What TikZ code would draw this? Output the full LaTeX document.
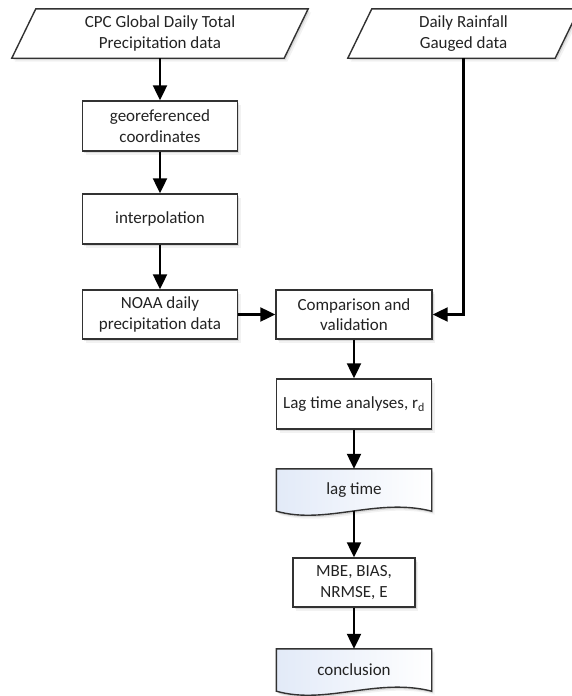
\documentclass[tikz,border=0pt]{standalone}
\usepackage{fontspec}
\setmainfont{Carlito}
\usetikzlibrary{arrows.meta,calc,shadows,backgrounds}
\definecolor{docblue}{RGB}{226,234,248}
\definecolor{edgegray}{RGB}{50,50,50}
\definecolor{txtgray}{RGB}{35,35,35}
\begin{document}
\begin{tikzpicture}[x=1pt,y=-1pt,
  font=\fontsize{17}{20.4}\selectfont,
  softshadow/.style={drop shadow={shadow xshift=1.5pt,shadow yshift=-2pt,opacity=0.10,fill=black},
                     drop shadow={shadow xshift=3pt,shadow yshift=-3.5pt,opacity=0.05,fill=black}},
  box/.style={draw=edgegray, line width=1.4pt, fill=white, softshadow, text=txtgray,
              minimum width=155pt, minimum height=50pt, inner sep=2pt, align=center},
  bare/.style={text=txtgray, inner sep=2pt, align=center},
  outline/.style={draw=edgegray, line width=1.4pt, fill=white, softshadow},
  docoutline/.style={draw=edgegray, line width=1.4pt, left color=docblue, right color=white, softshadow},
  arr/.style={line width=2.2pt, black, -{Triangle[length=15pt,width=14pt]}}
]
\useasboundingbox (0,0) rectangle (572,696);

% input parallelograms (text nodes)
\node[bare, minimum width=272pt, minimum height=49pt] (cpc) at (160,33.5) {CPC Global Daily Total\\Precipitation data};
\node[bare, minimum width=207pt, minimum height=49pt] (rain) at (463.5,33.5) {Daily Rainfall\\Gauged data};

% process boxes
\node[box] (geo) at (160,126) {georeferenced\\coordinates};
\node[box] (interp) at (160,219) {interpolation};
\node[box, minimum height=49pt] (noaa) at (160,314.5) {NOAA daily\\precipitation data};
\node[box, minimum width=156pt, minimum height=49pt] (comp) at (354,314.5) {Comparison and\\validation};
\node[box] (lag) at (354,404) {Lag time analyses, r\textsubscript{d}};
\node[bare, minimum width=155pt, minimum height=42pt] (lagt) at (354,490) {lag time};
\node[box, minimum width=122pt, minimum height=49pt] (mbe) at (354,582.5) {MBE, BIAS,\\NRMSE, E};
\node[bare, minimum width=155pt, minimum height=42pt] (concl) at (354,670) {conclusion};

\begin{scope}[on background layer]
  \path[outline] ($(cpc.south west)+(-12,0)$) -- ($(cpc.south east)+(-12,0)$)
     -- ($(cpc.north east)+(12,0)$) -- ($(cpc.north west)+(12,0)$) -- cycle;
  \path[outline] ($(rain.south west)+(-12,0)$) -- ($(rain.south east)+(-12,0)$)
     -- ($(rain.north east)+(12,0)$) -- ($(rain.north west)+(12,0)$) -- cycle;
  \path[docoutline] (lagt.north west) -- (lagt.south west)
     .. controls ($(lagt.south west)+(50,14)$) and ($(lagt.south east)+(-55,-14)$) .. (lagt.south east)
     -- (lagt.north east) -- cycle;
  \path[docoutline] (concl.north west) -- (concl.south west)
     .. controls ($(concl.south west)+(50,14)$) and ($(concl.south east)+(-55,-14)$) .. (concl.south east)
     -- (concl.north east) -- cycle;
\end{scope}

% connectors
\draw[arr] (cpc.south) -- (geo.north);
\draw[arr] (geo) -- (interp);
\draw[arr] (interp) -- (noaa);
\draw[arr] (noaa) -- (comp);
\draw[arr] (rain.south) |- (comp.east);
\draw[arr] (comp) -- (lag);
\draw[arr] (lag) -- (lagt);
\draw[arr] (lagt.south) -- (mbe.north);
\draw[arr] (mbe) -- (concl);
\end{tikzpicture}
\end{document}
